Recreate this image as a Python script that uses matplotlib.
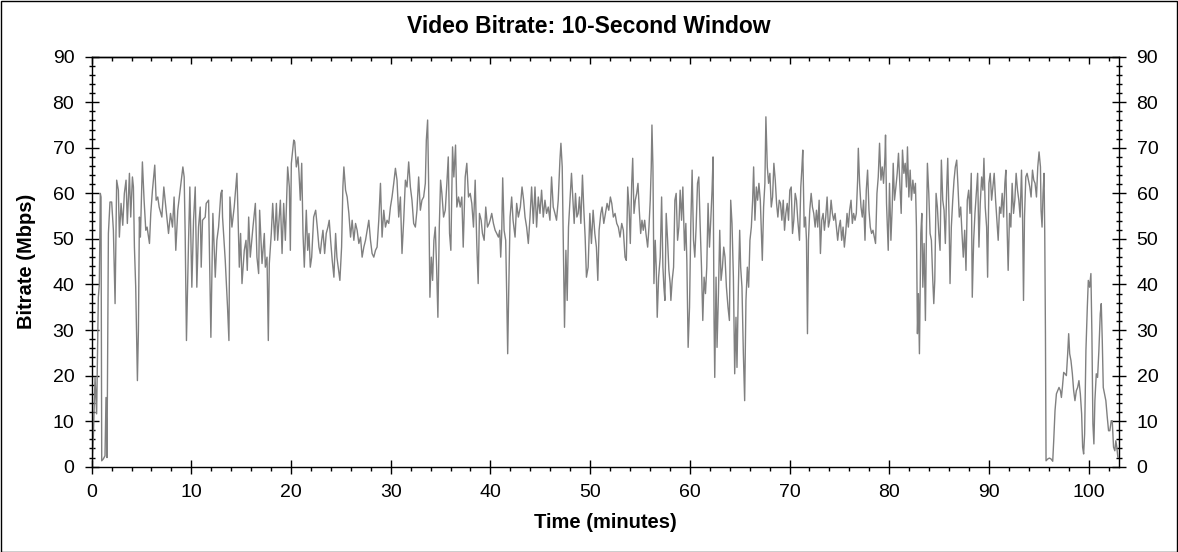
import matplotlib
matplotlib.use("Agg")
import matplotlib.pyplot as plt
from matplotlib.ticker import MultipleLocator
from matplotlib.patches import Rectangle

plt.rcParams['font.family'] = ['Liberation Sans', 'DejaVu Sans']

# (time in minutes, bitrate in Mbps), in five stretches
seg_00_20 = [(0.07,1.0),(0.17,6.5),(0.34,19.6),(0.50,11.6),(0.60,27.0),(0.67,37.2),(0.77,40.0),(0.87,60.0),(0.94,59.2),(1.01,1.3),(1.17,1.7),(1.34,2.4),(1.44,15.2),(1.54,2.0),(1.68,51.2),(1.84,58.1),(2.01,58.1),(2.18,51.9),(2.35,35.8),(2.51,62.9),(2.68,60.7),(2.78,50.4),(2.95,57.8),(3.12,53.0),(3.28,60.0),(3.45,62.9),(3.58,53.4),(3.79,64.4),(3.92,54.8),(4.09,63.6),(4.19,61.4),(4.29,48.2),(4.42,39.4),(4.59,18.9),(4.69,29.9),(4.79,54.8),(4.89,50.4),(5.09,66.9),(5.26,58.5),(5.43,51.9),(5.56,52.6),(5.80,49.0),(5.93,55.6),(6.10,60.7),(6.33,66.2),(6.47,58.5),(6.63,59.2),(6.77,57.0),(7.04,54.8),(7.24,61.4),(7.37,58.5),(7.71,51.2),(7.91,55.6),(8.11,52.6),(8.27,59.2),(8.44,47.5),(8.64,56.3),(8.91,61.4),(9.15,65.8),(9.28,63.6),(9.38,51.2),(9.51,27.7),(9.72,49.7),(9.85,61.4),(10.05,39.4),(10.22,54.1),(10.39,61.4),(10.55,39.4),(10.72,52.6),(10.89,57.0),(10.99,43.8),(11.12,54.1),(11.39,54.8),(11.49,57.8),(11.73,58.5),(11.96,28.4),(12.16,55.6),(12.40,41.6),(12.56,49.7),(12.73,52.6),(12.96,60.0),(13.07,60.7),(13.13,54.8),(13.40,45.3),(13.63,35.0),(13.77,27.7),(13.87,59.2),(14.07,52.6),(14.30,57.0),(14.57,64.4),(14.67,56.3),(14.81,43.8),(14.94,51.2),(15.08,40.2),(15.31,47.5),(15.48,49.7),(15.61,43.1),(15.75,54.8),(15.91,46.0),(16.18,52.6),(16.42,57.8),(16.58,46.0),(16.75,42.4),(16.85,56.3),(17.09,44.6),(17.32,51.2),(17.42,43.8),(17.59,46.0),(17.72,27.7),(17.82,44.6),(18.02,51.2),(18.16,57.8),(18.36,49.7),(18.53,57.8),(18.66,49.7),(18.93,58.5),(19.10,46.8),(19.26,57.8),(19.43,49.7),(19.66,65.8),(19.83,61.4),(19.93,47.5),(20.03,66.6),(20.27,71.7)]

seg_20_40 = [(20.37,71.3),(20.53,65.8),(20.7,68.0),(20.8,64.4),(20.93,58.5),(21.07,66.6),(21.2,51.2),(21.33,43.8),(21.53,56.3),(21.67,47.5),(21.8,51.2),(21.93,43.8),(22.07,46.0),(22.27,54.8),(22.47,56.3),(22.63,52.6),(22.8,48.2),(22.93,46.8),(23.07,49.7),(23.2,51.9),(23.37,46.8),(23.53,51.2),(23.7,52.6),(23.83,54.1),(23.97,49.7),(24.13,45.3),(24.3,41.6),(24.47,51.2),(24.6,46.0),(24.73,43.8),(24.9,40.9),(25.07,48.2),(25.2,61.4),(25.3,65.8),(25.47,60.7),(25.63,59.2),(25.8,55.6),(25.97,50.4),(26.13,54.1),(26.3,49.7),(26.47,53.4),(26.63,51.9),(26.8,49.0),(26.97,50.4),(27.13,46.0),(27.3,48.2),(27.47,49.7),(27.63,51.9),(27.8,54.1),(27.97,49.7),(28.13,46.8),(28.3,46.0),(28.47,47.5),(28.63,48.2),(28.8,54.1),(28.97,62.2),(29.13,50.4),(29.3,56.3),(29.47,52.6),(29.63,54.1),(29.8,53.4),(29.97,57.0),(30.13,59.2),(30.3,62.2),(30.47,65.5),(30.63,62.9),(30.8,54.8),(30.97,59.2),(31.13,46.8),(31.3,54.1),(31.47,62.9),(31.63,61.4),(31.8,66.9),(31.97,61.4),(32.13,58.5),(32.3,53.4),(32.47,52.6),(32.63,56.3),(32.8,63.6),(32.97,56.3),(33.13,58.5),(33.3,59.2),(33.47,62.2),(33.57,71.7),(33.7,76.1),(33.8,62.2),(33.93,37.2),(34.07,46.0),(34.2,40.9),(34.33,49.7),(34.47,52.6),(34.6,43.8),(34.73,32.8),(34.87,52.6),(35.0,62.9),(35.13,60.0),(35.3,54.8),(35.47,56.3),(35.63,62.2),(35.77,68.0),(35.9,51.2),(36.03,47.5),(36.2,70.2),(36.33,63.6),(36.5,70.6),(36.63,57.0),(36.8,59.2),(36.97,57.0),(37.13,59.2),(37.27,48.2),(37.47,63.6),(37.63,66.6),(37.8,59.2),(37.97,60.0),(38.13,57.8),(38.3,52.6),(38.47,62.9),(38.63,49.0),(38.77,40.2),(38.9,55.6),(39.07,54.1),(39.2,51.2),(39.37,49.7),(39.53,57.0),(39.7,52.6),(39.87,53.4)]

seg_40_60 = [(39.97,54.1),(40.13,55.6),(40.3,53.4),(40.47,51.9),(40.63,51.2),(40.8,50.4),(40.93,51.9),(41.03,46.0),(41.13,51.2),(41.23,63.4),(41.37,51.9),(41.53,49.7),(41.63,38.0),(41.73,24.8),(41.83,38.0),(41.97,54.8),(42.13,59.2),(42.27,54.1),(42.47,50.4),(42.63,57.8),(42.8,54.8),(43.0,57.0),(43.17,61.4),(43.33,58.5),(43.47,54.8),(43.63,52.6),(43.8,49.0),(43.97,54.8),(44.13,61.4),(44.3,53.4),(44.47,61.4),(44.63,52.6),(44.8,59.2),(44.97,55.6),(45.13,60.7),(45.3,54.8),(45.47,58.5),(45.63,55.6),(45.8,57.0),(45.97,54.1),(46.13,63.6),(46.3,57.0),(46.47,55.6),(46.63,54.1),(46.8,58.5),(46.97,67.3),(47.07,71.0),(47.2,65.8),(47.33,45.3),(47.43,30.6),(47.57,47.5),(47.7,36.5),(47.83,52.6),(48.0,59.2),(48.13,64.4),(48.27,58.5),(48.4,53.4),(48.53,60.0),(48.67,54.8),(48.8,55.6),(48.93,59.2),(49.07,53.4),(49.23,64.0),(49.37,56.3),(49.5,50.4),(49.63,41.6),(49.8,43.8),(49.97,55.6),(50.13,49.0),(50.3,56.3),(50.47,51.2),(50.63,48.2),(50.77,40.9),(50.9,51.9),(51.07,55.6),(51.2,57.0),(51.37,53.4),(51.53,55.6),(51.7,57.8),(51.87,56.3),(52.03,59.2),(52.17,57.8),(52.33,54.8),(52.5,55.6),(52.67,53.4),(52.83,52.6),(53.0,50.4),(53.17,53.4),(53.33,51.9),(53.5,46.0),(53.63,45.3),(53.77,61.4),(53.9,57.0),(54.03,49.0),(54.17,62.2),(54.27,67.7),(54.4,55.6),(54.53,58.5),(54.67,60.0),(54.8,62.2),(54.93,56.3),(55.07,51.2),(55.2,54.1),(55.33,51.9),(55.47,54.1),(55.6,51.2),(55.77,48.2),(55.9,52.6),(56.03,58.5),(56.13,65.8),(56.2,75.0),(56.3,65.8),(56.4,40.2),(56.53,49.7),(56.63,43.8),(56.73,32.8),(56.87,41.6),(57.03,46.0),(57.17,59.2),(57.3,43.8),(57.4,39.4),(57.5,36.5),(57.63,55.6),(57.77,49.7),(57.9,43.1),(58.03,40.2),(58.1,36.5),(58.23,40.9),(58.37,43.8),(58.5,58.5),(58.63,60.0),(58.77,49.7),(58.9,52.6),(59.03,60.7),(59.17,54.1),(59.3,61.4),(59.47,47.5),(59.6,53.4),(59.7,45.3)]

seg_60_80 = [(59.83,26.2),(59.97,35.0),(60.1,53.4),(60.23,65.1),(60.37,49.7),(60.5,46.0),(60.63,52.6),(60.77,62.2),(60.9,63.6),(61.03,53.4),(61.17,43.8),(61.3,32.1),(61.43,41.6),(61.57,38.0),(61.7,43.8),(61.83,57.8),(61.97,48.2),(62.1,54.1),(62.23,60.7),(62.33,68.0),(62.43,32.1),(62.5,19.6),(62.63,41.6),(62.73,26.2),(62.87,38.0),(63.0,51.9),(63.13,40.9),(63.27,43.8),(63.4,48.2),(63.53,46.0),(63.67,39.4),(63.83,35.0),(63.97,32.1),(64.1,58.5),(64.23,53.4),(64.37,41.6),(64.5,20.4),(64.63,32.8),(64.73,21.8),(64.87,39.4),(65.0,51.9),(65.1,43.8),(65.23,39.4),(65.37,24.8),(65.5,14.5),(65.63,36.5),(65.77,43.8),(65.9,39.4),(66.03,49.7),(66.17,52.6),(66.3,58.5),(66.4,65.8),(66.53,54.1),(66.67,61.4),(66.8,58.5),(66.93,62.2),(67.07,58.5),(67.2,49.7),(67.27,45.3),(67.4,57.0),(67.53,62.2),(67.63,76.8),(67.77,65.8),(67.9,62.2),(68.03,64.4),(68.17,57.0),(68.3,59.2),(68.43,66.6),(68.57,62.9),(68.7,57.8),(68.83,54.8),(68.97,58.5),(69.1,57.8),(69.23,54.1),(69.37,58.5),(69.5,51.9),(69.63,55.6),(69.77,57.8),(69.9,54.1),(70.03,60.7),(70.17,61.4),(70.3,51.2),(70.43,54.1),(70.57,60.0),(70.7,58.5),(70.83,54.1),(71.0,49.7),(71.13,61.4),(71.23,65.1),(71.33,69.5),(71.47,52.6),(71.6,54.8),(71.7,49.7),(71.8,29.2),(71.9,49.7),(72.03,56.3),(72.17,60.0),(72.3,57.0),(72.43,55.6),(72.57,52.6),(72.7,56.3),(72.83,52.6),(72.97,58.5),(73.1,46.8),(73.23,54.1),(73.37,55.6),(73.5,51.9),(73.63,54.8),(73.77,59.2),(73.9,52.6),(74.03,54.1),(74.17,58.5),(74.3,55.6),(74.43,54.1),(74.57,55.6),(74.7,52.6),(74.83,49.7),(74.97,52.6),(75.1,54.1),(75.23,49.7),(75.37,52.6),(75.5,48.2),(75.63,51.2),(75.77,55.6),(75.9,52.6),(76.03,56.3),(76.17,58.5),(76.3,53.4),(76.43,55.6),(76.57,54.1),(76.7,55.6),(76.83,62.9),(76.9,69.9),(77.03,62.2),(77.17,57.0),(77.3,54.8),(77.43,58.5),(77.57,49.7),(77.7,60.7),(77.83,65.1),(77.97,56.3),(78.1,52.6),(78.23,51.2),(78.37,51.9),(78.5,50.4),(78.63,49.0),(78.77,60.0),(78.9,63.6),(79.03,71.0),(79.17,62.9),(79.3,65.8),(79.43,62.2),(79.57,68.0),(79.63,72.8)]

seg_80_end = [(79.73,57.8),(79.9,47.5),(80.03,62.2),(80.17,49.7),(80.3,57.0),(80.4,66.6),(80.53,58.5),(80.67,61.4),(80.8,64.4),(80.93,68.8),(81.07,62.2),(81.2,55.6),(81.33,69.5),(81.47,64.4),(81.6,66.6),(81.73,61.4),(81.83,70.2),(81.97,59.2),(82.1,65.1),(82.23,58.5),(82.37,62.9),(82.5,60.0),(82.63,62.2),(82.73,52.6),(82.83,29.2),(82.93,38.0),(83.03,24.8),(83.17,51.2),(83.27,55.6),(83.37,39.4),(83.5,49.0),(83.63,32.1),(83.73,51.2),(83.83,66.6),(83.97,60.0),(84.1,51.2),(84.23,49.7),(84.37,40.9),(84.47,35.8),(84.57,40.9),(84.7,60.0),(84.83,57.0),(84.97,51.2),(85.1,47.5),(85.23,67.3),(85.37,58.5),(85.5,56.3),(85.63,49.0),(85.77,61.4),(85.87,67.7),(86.0,54.8),(86.1,40.2),(86.23,52.6),(86.37,58.5),(86.5,62.9),(86.63,65.8),(86.77,67.3),(86.9,61.4),(87.03,54.8),(87.17,57.0),(87.3,51.2),(87.43,46.0),(87.57,51.9),(87.7,43.1),(87.83,58.5),(87.97,60.7),(88.1,55.6),(88.23,64.4),(88.33,37.2),(88.47,49.7),(88.6,55.6),(88.73,60.0),(88.87,64.4),(89.0,48.2),(89.13,57.8),(89.27,63.6),(89.4,60.7),(89.5,67.7),(89.63,57.0),(89.77,52.6),(89.87,41.6),(90.0,62.2),(90.13,64.4),(90.27,58.5),(90.4,61.4),(90.53,64.4),(90.67,58.5),(90.8,54.1),(90.93,49.7),(91.07,57.0),(91.2,55.6),(91.33,60.0),(91.47,54.8),(91.6,62.2),(91.7,65.1),(91.83,51.9),(91.93,43.1),(92.07,55.6),(92.2,52.6),(92.33,62.2),(92.47,55.6),(92.6,58.5),(92.73,64.4),(92.87,60.7),(93.0,58.5),(93.13,54.8),(93.27,65.1),(93.37,55.6),(93.47,36.5),(93.57,54.8),(93.7,63.6),(93.83,64.4),(93.97,62.9),(94.1,61.4),(94.23,59.2),(94.37,65.1),(94.5,62.9),(94.63,62.2),(94.77,59.2),(94.9,65.8),(95.03,69.1),(95.17,65.8),(95.23,56.3),(95.33,52.6),(95.43,60.0),(95.53,64.4),(95.6,51.2),(95.67,29.2),(95.73,1.3),(95.9,1.7),(96.07,1.9),(96.23,1.7),(96.4,1.2),(96.5,5.7),(96.63,12.3),(96.77,16.0),(96.9,16.7),(97.03,17.4),(97.17,16.7),(97.27,15.2),(97.37,17.4),(97.5,20.7),(97.63,20.4),(97.77,20.0),(97.9,24.8),(98.0,29.2),(98.1,24.8),(98.23,23.3),(98.37,20.4),(98.5,16.7),(98.63,14.5),(98.77,16.7),(98.9,17.4),(99.03,18.9),(99.17,16.0),(99.3,11.6),(99.4,4.3),(99.5,2.8),(99.6,7.2),(99.73,25.5),(99.87,35.0),(99.97,40.9),(100.1,39.4),(100.23,42.4),(100.33,29.2),(100.43,9.4),(100.53,5.0),(100.63,14.5),(100.77,20.4),(100.9,19.6),(101.03,25.5),(101.17,33.6),(101.27,35.8),(101.37,27.7),(101.47,17.4),(101.6,16.0),(101.73,14.5),(101.87,10.9),(102.0,7.9),(102.13,7.9),(102.27,10.1),(102.37,10.1),(102.5,4.3),(102.63,3.5),(102.73,5.7),(102.83,4.3),(102.93,2.1)]

segments = [seg_00_20, seg_20_40, seg_40_60, seg_60_80, seg_80_end]
time_min = [p[0] for s in segments for p in s]
bitrate_mbps = [p[1] for s in segments for p in s]

title = "Video Bitrate: 10-Second Window"
x_label = "Time (minutes)"
y_label = "Bitrate (Mbps)"

fig = plt.figure(figsize=(11.78, 5.52), dpi=100)
ax = fig.add_axes([0.0778, 0.1545, 0.8723, 0.7428])
ax.plot(time_min, bitrate_mbps, color='#808080', lw=1.0)

ax.set_xlim(0, 103.07)
ax.set_ylim(0, 90)
ax.xaxis.set_major_locator(MultipleLocator(10))
ax.xaxis.set_minor_locator(MultipleLocator(2))
ax.yaxis.set_major_locator(MultipleLocator(10))
ax.yaxis.set_minor_locator(MultipleLocator(2))

for sp in ax.spines.values():
    sp.set_linewidth(1.0)
    sp.set_color('black')

ax.tick_params(axis='x', which='major', direction='inout', length=10, width=1.0,
               top=False, labelsize=14, pad=7.5)
ax.tick_params(axis='x', which='minor', direction='out', length=3, width=1.0, top=False)
ax.tick_params(axis='y', which='major', direction='inout', length=10, width=1.0,
               right=True, labelright=True, labelsize=14, pad=7.5)
ax.tick_params(axis='y', which='minor', direction='inout', length=5, width=1.0, right=True)

sec = ax.secondary_xaxis('top')
sec.xaxis.set_major_locator(MultipleLocator(10))
sec.xaxis.set_minor_locator(MultipleLocator(2))
sec.tick_params(axis='x', which='major', direction='in', length=5, width=1.0, labeltop=False)
sec.tick_params(axis='x', which='minor', direction='in', length=2.7, width=1.0)
sec.spines['top'].set_linewidth(1.0)

ax.set_xlabel(x_label, fontsize=14.5, fontweight='bold')
ax.set_ylabel(y_label, fontsize=14.5, fontweight='bold')
ax.xaxis.set_label_coords(0.5, -0.112)
ax.yaxis.set_label_coords(-0.054, 0.5)

fig.text(0.5, 1 - 26.7 / 552, title, ha='center', va='center', fontsize=16.5, fontweight='bold')

fig.patches.append(Rectangle((0.5 / 1178, 0.5 / 552), 1176.5 / 1178, 551 / 552,
                             transform=fig.transFigure, fill=False, ec='black', lw=1.0))

fig.savefig('out.png', dpi=100)
